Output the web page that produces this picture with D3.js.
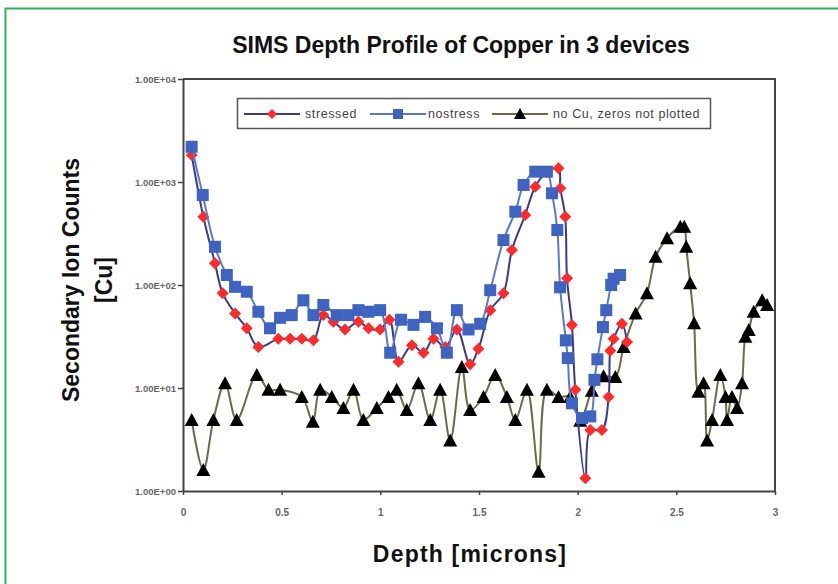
<!DOCTYPE html>
<html><head><meta charset="utf-8">
<script src="https://cdn.jsdelivr.net/npm/d3@7/dist/d3.min.js"></script>
<style>body{margin:0;background:#fff}svg{display:block}</style>
</head><body>
<svg id="c" width="838" height="584"></svg>
<script>
const stressedX = [0.044,0.103,0.162,0.201,0.264,0.323,0.382,0.483,0.543,0.602,0.661,0.711,0.762,0.821,0.889,0.94,0.999,1.046,1.092,1.160,1.219,1.269,1.329,1.388,1.455,1.497,1.557,1.624,1.667,1.734,1.785,1.844,1.903,1.912,1.937,1.946,1.971,1.988,2.039,2.064,2.123,2.157,2.165,2.182,2.224,2.25];
const stressedY = [1830,460,163,83,53,38,25,30,30,30,29,51,44,37,44,38,37,46,18,26,22,30,25,37,17,24,57,83,219,478,900,1250,1360,870,460,116,41,9.6,1.33,3.9,3.9,8.2,23,30,42,28];
const nostressX = [0.044,0.1,0.162,0.222,0.264,0.323,0.382,0.441,0.492,0.551,0.61,0.661,0.711,0.779,0.838,0.889,0.94,0.999,1.05,1.105,1.168,1.227,1.287,1.337,1.388,1.447,1.506,1.557,1.624,1.684,1.726,1.785,1.844,1.87,1.897,1.911,1.94,1.95,1.971,2.022,2.064,2.085,2.1,2.128,2.145,2.17,2.182,2.215];
const nostressY = [2200,748,235,125,96,86,55,38,48,51,71,51,64,51,51,57,55,57,22,46,41,49,38,22,57,37,42,89,273,515,935,1260,1260,777,342,95,29,19.5,7.1,5.1,5.3,12,19,39,57,100,115,125];
const noCuX = [0.044,0.103,0.154,0.213,0.272,0.374,0.433,0.492,0.602,0.658,0.695,0.754,0.813,0.864,0.914,0.982,1.041,1.083,1.134,1.193,1.253,1.303,1.354,1.413,1.455,1.523,1.582,1.641,1.684,1.743,1.802,1.844,1.903,1.962,2.013,2.072,2.131,2.191,2.233,2.294,2.351,2.395,2.453,2.52,2.54,2.55,2.57,2.59,2.612,2.638,2.656,2.681,2.723,2.749,2.757,2.782,2.808,2.833,2.85,2.867,2.892,2.935,2.96];
const noCuY = [4.9,1.6,4.9,11.1,4.9,13.4,9.6,9.6,8.2,4.7,9.6,8.2,6.4,9.6,4.9,6.4,8.2,9.6,6.1,11.1,4.9,9.6,3.1,16,6.1,8.2,13.4,8.2,4.9,9.6,1.54,9.6,8.2,8.2,4.8,9.4,13,12.8,25,53,83,188,284,368,368,235,104,42.5,9.2,11.1,3.1,4.9,13.4,8.2,4.9,8.2,6.4,11.1,31.5,36.6,55,71,64];
const xTicks = [0,0.5,1,1.5,2,2.5,3];
const xTickLabels = ["0","0.5","1","1.5","2","2.5","3"];
const yTicks = [1,10,100,1000,10000];
const yTickLabels = ["1.00E+00","1.00E+01","1.00E+02","1.00E+03","1.00E+04"];
const seriesNames = ["stressed","nostress","no Cu, zeros not plotted"];

const svg = d3.select("#c");
const L=183, R=775, T=79, B=491;
const x = d3.scaleLinear().domain([0,3]).range([L,R]);
const y = d3.scaleLog().domain([1,10000]).range([B,T]);
const fnt = "Liberation Sans, Arial, sans-serif";

// outer border
svg.append("path").attr("d","M5.5,584 L5.5,8.5 L838,8.5").attr("fill","none").attr("stroke","#2db45a").attr("stroke-width",2);

// title
svg.append("text").attr("x",461).attr("y",53).attr("text-anchor","middle")
  .attr("font-family",fnt).attr("font-weight","bold").attr("font-size",23)
  .attr("fill","#111").text("SIMS Depth Profile of Copper in 3 devices");

// axes
const xAxis = d3.axisBottom(x).tickValues(xTicks).tickFormat((d,i)=>xTickLabels[i]).tickSize(4).tickSizeOuter(0);
const gx = svg.append("g").attr("transform",`translate(0,${B})`).call(xAxis);
gx.select(".domain").attr("stroke","#444").attr("stroke-width",2);
gx.selectAll(".tick line").attr("stroke","#444").attr("stroke-width",1.5);
gx.selectAll(".tick text").attr("font-family",fnt).attr("font-size",10).attr("font-weight","bold").attr("fill","#666").attr("y",18).attr("dy","0.71em");

const yAxis = d3.axisLeft(y).tickValues(yTicks).tickFormat((d,i)=>yTickLabels[i]).tickSize(5).tickSizeOuter(0);
const gy = svg.append("g").attr("transform",`translate(${L},0)`).call(yAxis);
gy.select(".domain").attr("stroke","#444").attr("stroke-width",2);
gy.selectAll(".tick line").attr("stroke","#444").attr("stroke-width",1.5);
gy.selectAll(".tick text").attr("font-family",fnt).attr("font-size",9.5).attr("font-weight","bold").attr("fill","#666").attr("x",-7);

// top & right frame
svg.append("path").attr("d",`M${L},${T} L${R},${T} L${R},${B}`).attr("fill","none").attr("stroke","#444").attr("stroke-width",2);

// axis titles
svg.append("text").attr("x",470).attr("y",562).attr("text-anchor","middle")
  .attr("font-family",fnt).attr("font-weight","bold").attr("font-size",23).attr("letter-spacing",1.2).attr("fill","#111").text("Depth [microns]");
const yt = svg.append("text").attr("transform","translate(79,280) rotate(-90)").attr("text-anchor","middle")
  .attr("font-family",fnt).attr("font-weight","bold").attr("font-size",23).attr("fill","#111");
yt.append("tspan").attr("x",0).attr("y",0).text("Secondary Ion Counts");
yt.append("tspan").attr("x",0).attr("y",33).text("[Cu]");

const line = d3.line().x(d=>x(d[0])).y(d=>y(d[1])).curve(d3.curveCatmullRom.alpha(0.5));

const series = [
  {xs:stressedX, ys:stressedY, line:"#3a3a8c", fill:"#ff2a2a", shape:"diamond"},
  {xs:nostressX, ys:nostressY, line:"#5a78d0", fill:"#3f63c0", shape:"square"},
  {xs:noCuX, ys:noCuY, line:"#6b6b45", fill:"#000", shape:"triangle"}
];
function marker(g, shape, fill, cx, cy){
  if(shape==="diamond") g.append("path").attr("d",`M${cx},${cy-6} L${cx+6},${cy} L${cx},${cy+6} L${cx-6},${cy} Z`).attr("fill",fill);
  else if(shape==="square") g.append("rect").attr("x",cx-6).attr("y",cy-6).attr("width",12).attr("height",12).attr("fill",fill);
  else g.append("path").attr("d",`M${cx},${cy-7} L${cx+7},${cy+6} L${cx-7},${cy+6} Z`).attr("fill",fill);
}
[2,0,1].forEach(i=>{
  const s = series[i];
  const data = s.xs.map((v,k)=>[v,s.ys[k]]);
  const g = svg.append("g");
  g.append("path").datum(data).attr("d",line).attr("fill","none").attr("stroke",s.line).attr("stroke-width",2);
  data.forEach(d=>marker(g,s.shape,s.fill,x(d[0]),y(d[1])));
});

// legend
const lg = svg.append("g");
lg.append("rect").attr("x",237.5).attr("y",98.5).attr("width",473).attr("height",30).attr("fill","#fff").attr("stroke","#555").attr("stroke-width",1.5);
const items = [{x0:244,tx:305},{x0:370,tx:428},{x0:492,tx:553}];
items.forEach((it,i)=>{
  const s = series[i];
  lg.append("line").attr("x1",it.x0).attr("x2",it.x0+56).attr("y1",114).attr("y2",114).attr("stroke",s.line).attr("stroke-width",2);
  const cx = it.x0+28;
  if(s.shape==="diamond") lg.append("path").attr("d",`M${cx},${109} L${cx+5},114 L${cx},119 L${cx-5},114 Z`).attr("fill",s.fill);
  else if(s.shape==="square") lg.append("rect").attr("x",cx-5).attr("y",109).attr("width",10).attr("height",10).attr("fill",s.fill);
  else lg.append("path").attr("d",`M${cx},108 L${cx+6},119 L${cx-6},119 Z`).attr("fill",s.fill);
  lg.append("text").attr("x",it.tx).attr("y",118).attr("font-family",fnt).attr("font-size",12.5).attr("letter-spacing",0.6).attr("fill","#444").text(seriesNames[i]);
});
</script>
</body></html>
